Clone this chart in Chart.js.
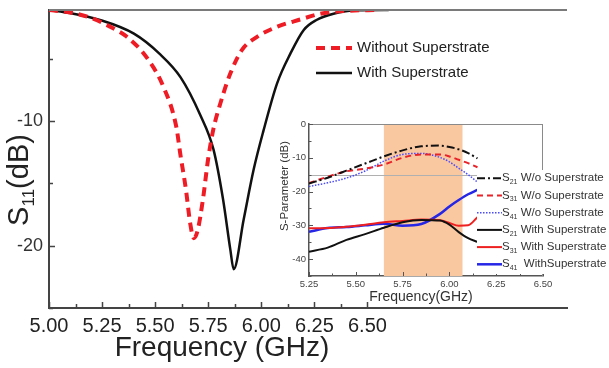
<!DOCTYPE html>
<html>
<head>
<meta charset="utf-8">
<script src="https://cdn.jsdelivr.net/npm/chart.js@4.4.0/dist/chart.umd.min.js"></script>
<style>
body{margin:0;background:#fff;}
#wrap{position:relative;width:609px;height:368px;}
#mainChart{position:absolute;left:0;top:0;}
#insetChart{position:absolute;left:265px;top:110px;}
</style>
</head>
<body>
<div id="wrap">
<canvas id="mainChart" width="609" height="368"></canvas>
<canvas id="insetChart" width="344" height="200"></canvas>
</div>
<script>
// main plot: S11 (dB) vs frequency (GHz)
var freqWithout = [5.00, 5.10, 5.20, 5.30, 5.367, 5.46, 5.54, 5.60, 5.618, 5.645, 5.665, 5.682, 5.70, 5.725, 5.75, 5.775, 5.807, 5.854, 5.909, 5.98, 6.074, 6.184, 6.278, 6.40, 6.55];
var s11Without  = [-1.1, -1.3, -1.75, -2.55, -3.25, -4.9, -7.3, -10.5, -12.6, -15.5, -18.2, -19.4, -18.8, -16.3, -13.0, -10.6, -8.6, -6.2, -4.3, -3.25, -2.45, -1.86, -1.4, -1.17, -1.1];
var freqWith = [5.00, 5.10, 5.24, 5.40, 5.52, 5.62, 5.712, 5.775, 5.82, 5.854, 5.87, 5.917, 5.964, 6.01, 6.074, 6.137, 6.20, 6.26, 6.34, 6.45, 6.60];
var s11With  = [-1.1, -1.35, -1.9, -3.0, -4.6, -6.5, -9.5, -12.3, -16.3, -20.3, -21.9, -17.9, -13.9, -10.8, -7.0, -4.6, -2.7, -1.9, -1.4, -1.12, -1.1];
var mainLegend = ['Without Superstrate', 'With Superstrate'];
var mainXTicks = [5.00, 5.25, 5.50, 5.75, 6.00, 6.25, 6.50];
var mainXMinor = [5.125, 5.375, 5.625, 5.875, 6.125, 6.375];
var mainYTicks = [-10, -20];
var mainYMinor = [-5, -15, -25];

// inset: S-parameters with and without superstrate
var insetFreq = [5.25, 5.35, 5.45, 5.55, 5.65, 5.75, 5.85, 5.95, 6.00, 6.05, 6.10, 6.15];
var s21Wo   = [-17.6, -15.9, -13.8, -11.7, -9.6, -7.8, -6.6, -6.4, -6.8, -7.5, -8.6, -10.2];
var s31Wo   = [-17.5, -15.6, -14.0, -13.2, -12.0, -10.0, -9.0, -9.0, -9.6, -10.6, -11.6, -12.8];
var s41Wo   = [-18.5, -17.4, -16.0, -13.9, -11.0, -9.0, -8.7, -9.9, -11.2, -13.1, -15.0, -17.2];
var s21With = [-37.8, -36.6, -34.3, -32.6, -30.7, -29.1, -28.4, -28.6, -29.8, -32.0, -33.8, -34.9];
var s31With = [-30.9, -30.8, -30.4, -29.8, -29.1, -28.7, -28.3, -28.5, -29.3, -30.1, -30.0, -27.6];
var s41With = [-31.9, -30.8, -30.5, -30.0, -29.5, -30.1, -29.6, -26.6, -24.4, -22.5, -20.8, -19.5];
var insetSubs = ['21', '31', '41', '21', '31', '41'];
var insetNames = [' W/o Superstrate', ' W/o Superstrate', ' W/o Superstrate', ' With Superstrate', ' With Superstrate', '  WithSuperstrate'];
var insetBand = [5.65, 6.07];
var insetRefLevel = -15;
var insetXTicks = [5.25, 5.50, 5.75, 6.00, 6.25, 6.50];
var insetXMinor = [5.375, 5.625, 5.875, 6.125, 6.375];
var insetYTicks = [0, -10, -20, -30, -40];
var insetYMinor = [-5, -15, -25, -35, -45];

var FONT = 'Arial, "Liberation Sans", sans-serif';

function pts(xs, ys){
    return xs.map(function(x, i){ return {x: x, y: ys[i]}; });
}

// draws text made of pieces, some of them subscripts
function drawParts(ctx, x, y, parts, align){
    var total = 0;
    parts.forEach(function(p){
        ctx.font = p.size + 'px ' + FONT;
        p.w = ctx.measureText(p.t).width;
        total += p.w;
    });
    var cx = align == 'center' ? x - total/2 : x;
    ctx.textAlign = 'left';
    ctx.textBaseline = 'middle';
    parts.forEach(function(p){
        ctx.font = p.size + 'px ' + FONT;
        ctx.fillText(p.t, cx, y + (p.dy || 0));
        cx += p.w;
    });
}

function drawTicks(ctx, chart, xMajor, xMinor, yMajor, yMinor, majLen, minLen){
    var a = chart.chartArea, xs = chart.scales.x, ys = chart.scales.y;
    ctx.beginPath();
    xMajor.concat(xMinor).forEach(function(v, i){
        var px = Math.round(xs.getPixelForValue(v)) + 0.5;
        var len = i < xMajor.length ? majLen : minLen;
        ctx.moveTo(px, a.bottom); ctx.lineTo(px, a.bottom - len);
    });
    yMajor.concat(yMinor).forEach(function(v, i){
        var py = Math.round(ys.getPixelForValue(v)) + 0.5;
        var len = i < yMajor.length ? majLen : minLen;
        ctx.moveTo(a.left, py); ctx.lineTo(a.left + len, py);
    });
    ctx.stroke();
}

// keep the plot box where the layout padding puts it
function noLabelPad(scale){
    scale.paddingTop = 0;
    scale.paddingBottom = 0;
    scale.paddingLeft = 0;
    scale.paddingRight = 0;
}

var mainDeco = {
    id: 'mainDeco',
    afterDraw: function(chart){
        var ctx = chart.ctx, a = chart.chartArea;
        ctx.save();
        // top frame line
        ctx.strokeStyle = '#7a7a7a';
        ctx.lineWidth = 2;
        ctx.beginPath(); ctx.moveTo(a.left, a.top); ctx.lineTo(a.right, a.top); ctx.stroke();
        ctx.strokeStyle = '#444';
        ctx.lineWidth = 1.5;
        drawTicks(ctx, chart, mainXTicks, mainXMinor, mainYTicks, mainYMinor, 6, 4);

        // axis titles
        ctx.fillStyle = '#222';
        drawParts(ctx, 222, 348, [{t: 'Frequency (GHz)', size: 28}], 'center');
        ctx.save();
        ctx.translate(20, 180);
        ctx.rotate(-Math.PI/2);
        drawParts(ctx, 0, 0, [{t: 'S', size: 29}, {t: '11', size: 17, dy: 9}, {t: '(dB)', size: 29}], 'center');
        ctx.restore();

        // legend
        var ds = chart.data.datasets;
        for (var i = 0; i < ds.length; i++){
            var y = 48 + i*25;
            ctx.strokeStyle = ds[i].borderColor;
            ctx.lineWidth = ds[i].borderWidth;
            ctx.setLineDash(ds[i].borderDash || []);
            ctx.beginPath(); ctx.moveTo(316, y); ctx.lineTo(352, y); ctx.stroke();
            ctx.setLineDash([]);
            ctx.fillStyle = '#222';
            drawParts(ctx, 357, y, [{t: mainLegend[i], size: 15}], 'left');
        }
        ctx.restore();
    }
};

var mainChart = new Chart(document.getElementById('mainChart'), {
    type: 'line',
    data: {
        datasets: [
            {
                label: mainLegend[0],
                data: pts(freqWithout, s11Without),
                borderColor: '#ee1c25',
                borderWidth: 4,
                borderDash: [9, 6],
                pointRadius: 0,
                cubicInterpolationMode: 'monotone'
            },
            {
                label: mainLegend[1],
                data: pts(freqWith, s11With),
                borderColor: '#111',
                borderWidth: 2.5,
                pointRadius: 0,
                cubicInterpolationMode: 'monotone'
            }
        ]
    },
    options: {
        responsive: false,
        animation: false,
        layout: {padding: {left: 0, top: 10, right: 42, bottom: 0}},
        plugins: {legend: {display: false}, tooltip: {enabled: false}},
        scales: {
            x: {
                type: 'linear',
                min: 5.0,
                max: 7.44,
                afterBuildTicks: function(scale){
                    scale.ticks = mainXTicks.map(function(v){ return {value: v}; });
                },
                afterFit: function(scale){ scale.height = 60; noLabelPad(scale); },
                grid: {display: false, drawTicks: false},
                border: {display: true, color: '#444', width: 2},
                ticks: {
                    padding: 6,
                    maxRotation: 0,
                    autoSkip: false,
                    color: '#222',
                    font: {family: FONT, size: 20},
                    callback: function(v){ return v.toFixed(2); }
                }
            },
            y: {
                min: -25,
                max: -1.1,
                afterBuildTicks: function(scale){
                    scale.ticks = mainYTicks.map(function(v){ return {value: v}; });
                },
                afterFit: function(scale){ scale.width = 49; noLabelPad(scale); },
                grid: {display: false, drawTicks: false},
                border: {display: true, color: '#444', width: 2},
                ticks: {
                    padding: 6,
                    color: '#333',
                    font: {family: FONT, size: 18},
                    callback: function(v){ return String(v); }
                }
            }
        }
    },
    plugins: [mainDeco]
});

var insetDeco = {
    id: 'insetDeco',
    beforeDatasetsDraw: function(chart){
        var ctx = chart.ctx, a = chart.chartArea, xs = chart.scales.x, ys = chart.scales.y;
        ctx.save();
        var x0 = xs.getPixelForValue(insetBand[0]), x1 = xs.getPixelForValue(insetBand[1]);
        ctx.fillStyle = '#f9c7a0';
        ctx.fillRect(x0, a.top, x1 - x0, a.bottom - a.top);
        var yr = Math.round(ys.getPixelForValue(insetRefLevel)) + 0.5;
        ctx.strokeStyle = '#b0b0b0';
        ctx.lineWidth = 1;
        ctx.beginPath(); ctx.moveTo(a.left, yr); ctx.lineTo(a.right, yr); ctx.stroke();
        ctx.restore();
    },
    afterDraw: function(chart){
        var ctx = chart.ctx, a = chart.chartArea;
        ctx.save();
        ctx.strokeStyle = '#8a8a8a';
        ctx.lineWidth = 1;
        ctx.beginPath();
        ctx.moveTo(a.left, a.top + 0.5); ctx.lineTo(a.right, a.top + 0.5);
        ctx.moveTo(a.right - 0.5, a.top); ctx.lineTo(a.right - 0.5, a.bottom);
        ctx.stroke();
        ctx.strokeStyle = '#555';
        ctx.lineWidth = 1;
        drawTicks(ctx, chart, insetXTicks, insetXMinor, insetYTicks, insetYMinor, 4, 2.5);

        // axis titles
        ctx.fillStyle = '#333';
        drawParts(ctx, 156, 187, [{t: 'Frequency(GHz)', size: 14}], 'center');
        ctx.save();
        ctx.translate(20, 76);
        ctx.rotate(-Math.PI/2);
        drawParts(ctx, 0, 0, [{t: 'S-Parameter (dB)', size: 11.5}], 'center');
        ctx.restore();

        // legend box
        ctx.fillStyle = '#fff';
        ctx.fillRect(212, 60, 132, 104);
        var ds = chart.data.datasets;
        for (var i = 0; i < ds.length; i++){
            var y = 68.3 + i*17.2;
            ctx.strokeStyle = ds[i].borderColor;
            ctx.lineWidth = ds[i].borderWidth;
            ctx.setLineDash(ds[i].borderDash || []);
            ctx.beginPath(); ctx.moveTo(212, y); ctx.lineTo(237, y); ctx.stroke();
            ctx.setLineDash([]);
            ctx.fillStyle = '#333';
            drawParts(ctx, 237, y, [{t: 'S', size: 11.5}, {t: insetSubs[i], size: 7, dy: 4}, {t: insetNames[i], size: 11.5}], 'left');
        }
        ctx.restore();
    }
};

function insetSet(label, ys, color, width, dash){
    return {
        label: label,
        data: pts(insetFreq, ys),
        borderColor: color,
        borderWidth: width,
        borderDash: dash,
        pointRadius: 0,
        cubicInterpolationMode: 'monotone'
    };
}

var insetChart = new Chart(document.getElementById('insetChart'), {
    type: 'line',
    data: {
        datasets: [
            insetSet('S21 W/o', s21Wo, '#111', 2, [8, 3, 2, 3]),
            insetSet('S31 W/o', s31Wo, '#e8232a', 2, [6, 4]),
            insetSet('S41 W/o', s41Wo, '#4a4aff', 1.5, [1.5, 1.5]),
            insetSet('S21 With', s21With, '#111', 2, []),
            insetSet('S31 With', s31With, '#ee2020', 2, []),
            insetSet('S41 With', s41With, '#2626e6', 2.5, [])
        ]
    },
    options: {
        responsive: false,
        animation: false,
        layout: {padding: {left: 0, top: 14, right: 66, bottom: 0}},
        plugins: {legend: {display: false}, tooltip: {enabled: false}},
        scales: {
            x: {
                type: 'linear',
                min: 5.25,
                max: 6.50,
                afterBuildTicks: function(scale){
                    scale.ticks = insetXTicks.map(function(v){ return {value: v}; });
                },
                afterFit: function(scale){ scale.height = 34; noLabelPad(scale); },
                grid: {display: false, drawTicks: false},
                border: {display: true, color: '#555', width: 1.5},
                ticks: {
                    padding: 3,
                    maxRotation: 0,
                    autoSkip: false,
                    color: '#444',
                    font: {family: FONT, size: 9.5},
                    callback: function(v){ return v.toFixed(2); }
                }
            },
            y: {
                min: -45,
                max: 0,
                afterBuildTicks: function(scale){
                    scale.ticks = insetYTicks.map(function(v){ return {value: v}; });
                },
                afterFit: function(scale){ scale.width = 44; noLabelPad(scale); },
                grid: {display: false, drawTicks: false},
                border: {display: true, color: '#555', width: 1.5},
                ticks: {
                    padding: 3,
                    color: '#444',
                    font: {family: FONT, size: 9.5},
                    callback: function(v){ return String(v); }
                }
            }
        }
    },
    plugins: [insetDeco]
});
</script>
</body>
</html>
